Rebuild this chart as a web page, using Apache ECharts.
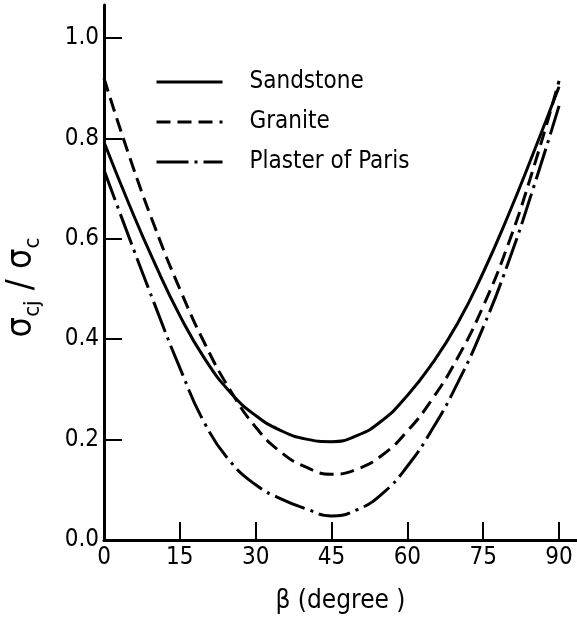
<!DOCTYPE html>
<html>
<head>
<meta charset="utf-8">
<script src="https://cdn.jsdelivr.net/npm/echarts@6/dist/echarts.min.js"></script>
<style>
  html, body { margin: 0; padding: 0; background: #ffffff; }
  #chart { width: 577px; height: 617px; }
</style>
</head>
<body>
<div id="chart"></div>
<script>
// Joint angle beta (degrees) and strength ratio sigma_cj / sigma_c for each rock type
const betaDeg = [0, 5, 10, 15, 20, 25, 30, 35, 40, 45, 50, 55, 60, 65, 70, 75, 80, 85, 90];
const sandstone = [0.793, 0.668, 0.552, 0.447, 0.360, 0.294, 0.248, 0.218, 0.201, 0.196, 0.208, 0.238, 0.288, 0.353, 0.433, 0.533, 0.648, 0.773, 0.903];
const granite = [0.920, 0.765, 0.625, 0.500, 0.390, 0.298, 0.225, 0.175, 0.145, 0.131, 0.141, 0.169, 0.217, 0.282, 0.364, 0.466, 0.591, 0.743, 0.915];
const plasterOfParis = [0.737, 0.602, 0.470, 0.343, 0.231, 0.156, 0.110, 0.082, 0.062, 0.048, 0.060, 0.092, 0.147, 0.222, 0.314, 0.424, 0.554, 0.704, 0.865];

const seriesNames = ['Sandstone', 'Granite', 'Plaster of Paris'];
const xTicks = [0, 15, 30, 45, 60, 75, 90];
const yTicks = [0, 0.2, 0.4, 0.6, 0.8, 1.0];

const FONT = '"Liberation Sans Narrow", "DejaVu Sans Condensed", sans-serif';
const INK = '#000000';

const pairs = values => betaDeg.map((b, i) => [b, values[i]]);

const lineSeries = (name, values, dash) => ({
  name: name,
  type: 'line',
  data: pairs(values),
  smooth: 0.5,
  symbol: 'none',
  showSymbol: false,
  lineStyle: { color: INK, width: 3, type: dash },
  // the legend marker circle is hidden; only the line sample shows
  itemStyle: { color: 'rgba(0,0,0,0)', borderWidth: 0 }
});

const chart = echarts.init(document.getElementById('chart'), null, { renderer: 'canvas' });

chart.setOption({
  animation: false,
  backgroundColor: '#ffffff',
  grid: { left: 104, right: 0, top: 5, bottom: 77, containLabel: false, outerBoundsMode: 'none' },
  legend: {
    orient: 'vertical',
    left: 155,
    top: 70,
    padding: 0,
    itemWidth: 66,
    itemHeight: 20,
    itemGap: 16,
    data: seriesNames,
    itemStyle: { opacity: 0 },
    lineStyle: { width: 3 },
    textStyle: { fontFamily: FONT, fontSize: 24, color: INK, padding: [0, 0, 0, 22] }
  },
  xAxis: {
    type: 'value',
    min: 0,
    max: 93.55,
    name: 'β (degree )',
    nameLocation: 'middle',
    nameGap: 48,
    nameTextStyle: { fontFamily: FONT, fontSize: 26, color: INK },
    axisLine: { lineStyle: { color: INK, width: 3 } },
    axisTick: { inside: true, length: 18, customValues: xTicks, lineStyle: { color: INK, width: 2 } },
    axisLabel: { customValues: xTicks, fontFamily: FONT, fontSize: 24, color: INK, margin: 6 },
    splitLine: { show: false }
  },
  yAxis: {
    type: 'value',
    min: 0,
    max: 1.066,
    name: '{s|σ}{sub|cj}{s| / σ}{sub|c}',
    nameLocation: 'middle',
    nameRotate: 90,
    nameGap: 60,
    nameTextStyle: {
      color: INK,
      padding: [0, 30, 0, 0],
      rich: {
        s: { fontFamily: FONT, fontSize: 36, color: INK, lineHeight: 44, verticalAlign: 'middle' },
        sub: { fontFamily: FONT, fontSize: 22, color: INK, lineHeight: 44, verticalAlign: 'bottom' }
      }
    },
    axisLine: { show: true, lineStyle: { color: INK, width: 3 } },
    axisTick: { show: true, inside: true, length: 18, customValues: yTicks, lineStyle: { color: INK, width: 2 } },
    axisLabel: {
      customValues: yTicks,
      fontFamily: FONT, fontSize: 24, color: INK, margin: 5,
      formatter: v => v.toFixed(1)
    },
    splitLine: { show: false }
  },
  series: [
    lineSeries(seriesNames[0], sandstone, 'solid'),
    lineSeries(seriesNames[1], granite, [14, 7]),
    lineSeries(seriesNames[2], plasterOfParis, [32, 6, 3, 6])
  ]
});
</script>
</body>
</html>
